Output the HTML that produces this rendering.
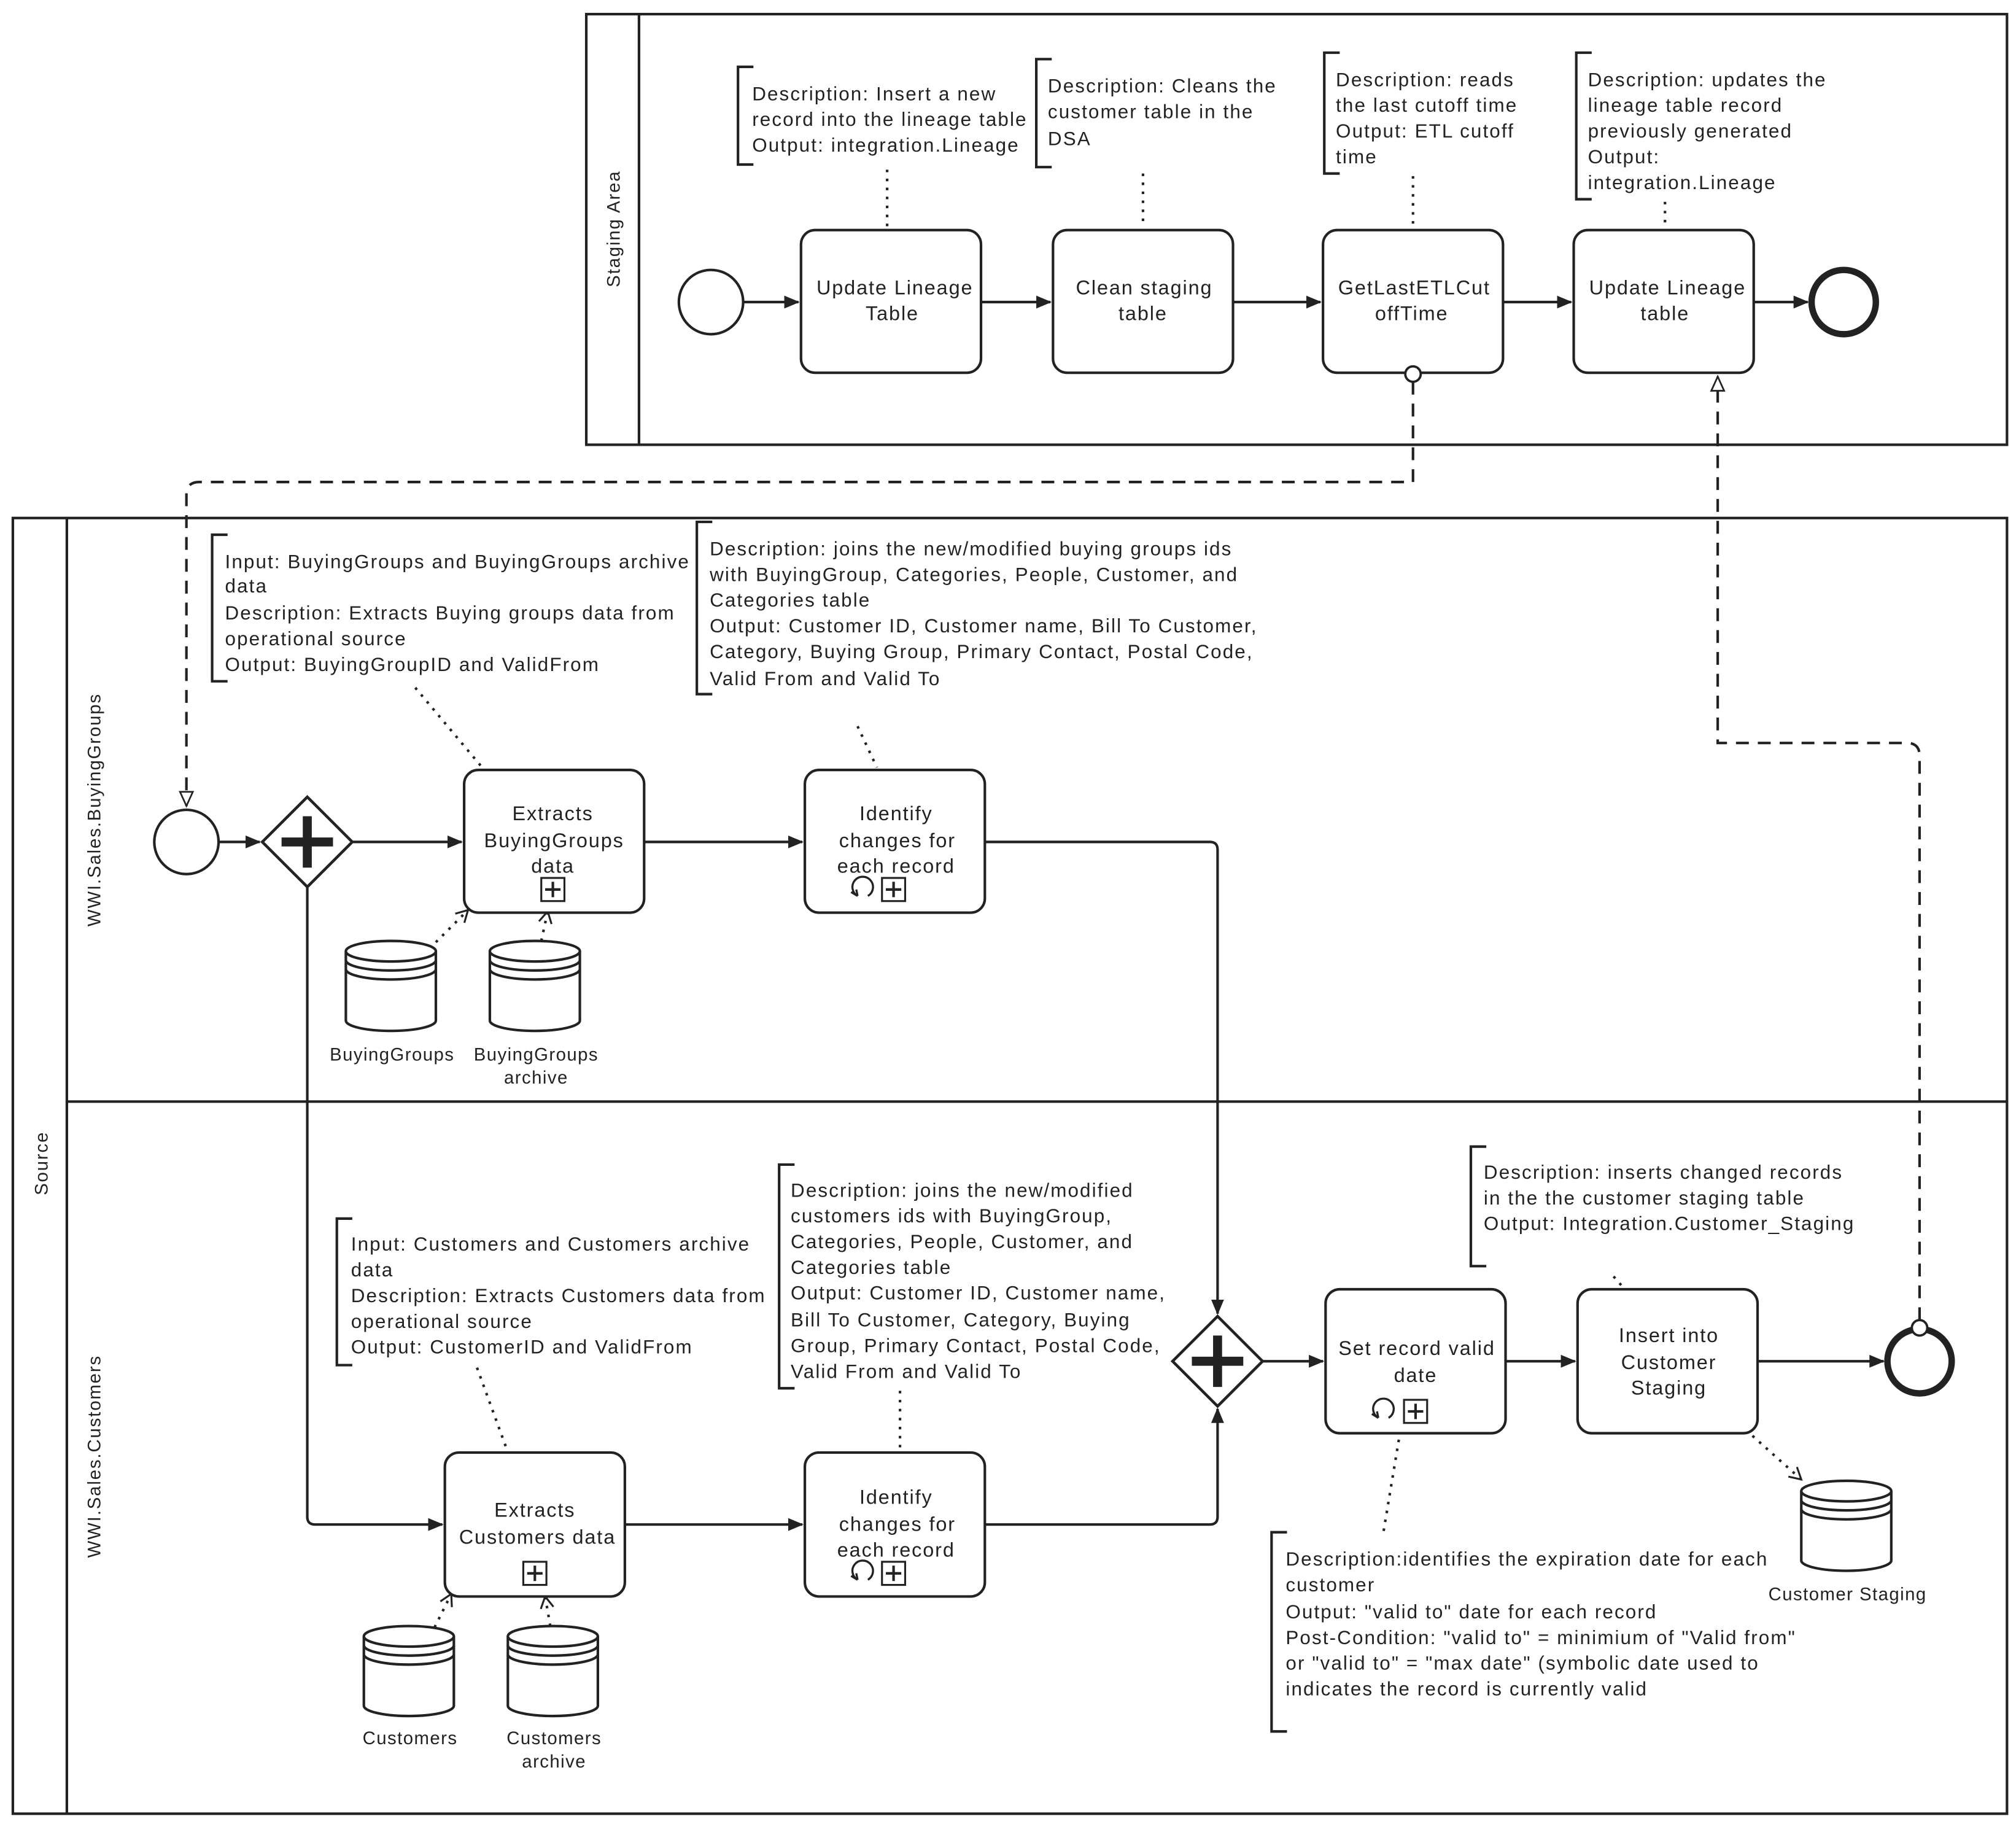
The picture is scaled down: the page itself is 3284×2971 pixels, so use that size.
<!DOCTYPE html>
<html><head><meta charset="utf-8"><style>
html,body{margin:0;padding:0;background:#fff;}
svg{display:block;}
text{font-family:"Liberation Sans",Arial,sans-serif;fill:#222;}
.a{font-size:15px;letter-spacing:1px;}
.t{font-size:15.5px;text-anchor:middle;letter-spacing:0.9px;}
.l{font-size:14px;text-anchor:middle;letter-spacing:0.7px;}
</style></head><body>
<svg width="3284" height="2971" viewBox="0 0 1568 1419" preserveAspectRatio="none" xmlns="http://www.w3.org/2000/svg">
<defs>
<marker id="ar" markerWidth="12" markerHeight="12" refX="11" refY="6" orient="auto" markerUnits="userSpaceOnUse"><path d="M0,1 L12,6 L0,11 z" fill="#222"/></marker>
<marker id="oa" markerWidth="14" markerHeight="14" refX="12" refY="7" orient="auto" markerUnits="userSpaceOnUse"><path d="M1,2 L12,7 L1,12 z" fill="#fff" stroke="#222" stroke-width="1.3"/></marker>
<marker id="da" markerWidth="12" markerHeight="12" refX="10" refY="6" orient="auto" markerUnits="userSpaceOnUse"><path d="M1,1 L10,6 L1,11" fill="none" stroke="#222" stroke-width="1.5"/></marker>
<g id="cyl">
<path d="M0,8 L0,62 A35,8 0 0 0 70,62 L70,8" fill="#fff" stroke="#222" stroke-width="2"/>
<ellipse cx="35" cy="8" rx="35" ry="8" fill="#fff" stroke="#222" stroke-width="2"/>
<path d="M0,15 A35,8 0 0 0 70,15 M0,22 A35,8 0 0 0 70,22" fill="none" stroke="#222" stroke-width="2"/>
</g>
<g id="sub"><rect x="-9" y="-9" width="18" height="18" fill="#fff" stroke="#222" stroke-width="1.5"/><path d="M-6,0 H6 M0,-6 V6" stroke="#222" stroke-width="2"/></g>
<g id="loop"><path d="M4,7 A8,8 0 1 0 -4,7" fill="none" stroke="#222" stroke-width="1.6"/><path d="M-4,7 L-9,4 M-4,7 L-5,2" stroke="#222" stroke-width="1.6"/></g>
<g id="gw"><path d="M0,-35 L35,0 L0,35 L-35,0 z" fill="#fff" stroke="#222" stroke-width="2.2"/><path d="M-20,0 H20 M0,-20 V20" stroke="#222" stroke-width="7"/></g>
</defs>
<g fill="none" stroke="#222" stroke-width="2">
<rect x="456" y="11" width="1105" height="335"/>
<line x1="497" y1="11" x2="497" y2="346"/>
<rect x="10" y="403" width="1551" height="1008"/>
<line x1="52" y1="403" x2="52" y2="1411"/>
<line x1="52" y1="857" x2="1561" y2="857"/>
<circle cx="553" cy="235" r="25" fill="#fff"/>
<rect x="623" y="179" width="140" height="111" rx="11" fill="#fff"/>
<rect x="819" y="179" width="140" height="111" rx="11" fill="#fff"/>
<rect x="1029" y="179" width="140" height="111" rx="11" fill="#fff"/>
<rect x="1224" y="179" width="140" height="111" rx="11" fill="#fff"/>
<circle cx="1434" cy="235" r="25" stroke-width="5" fill="#fff"/>
<line x1="578" y1="235" x2="621" y2="235" marker-end="url(#ar)"/>
<line x1="763" y1="235" x2="817" y2="235" marker-end="url(#ar)"/>
<line x1="959" y1="235" x2="1027" y2="235" marker-end="url(#ar)"/>
<line x1="1169" y1="235" x2="1222" y2="235" marker-end="url(#ar)"/>
<line x1="1364" y1="235" x2="1406" y2="235" marker-end="url(#ar)"/>
<path d="M586,52 H574 V128 H586"/>
<path d="M818,46 H806 V130 H818"/>
<path d="M1042,41 H1030 V135 H1042"/>
<path d="M1238,41 H1226 V155 H1238"/>
<path d="M177,416 H165 V530 H177"/>
<path d="M554,406 H542 V540 H554"/>
<path d="M274,948 H262 V1062 H274"/>
<path d="M618,906 H606 V1080 H618"/>
<path d="M1156,892 H1144 V985 H1156"/>
<path d="M1001,1192 H989 V1347 H1001"/>
</g>
<g fill="none" stroke="#222" stroke-width="2" stroke-dasharray="2,5">
<line x1="690" y1="132" x2="690" y2="176"/>
<line x1="889" y1="135" x2="889" y2="176"/>
<line x1="1099" y1="137" x2="1099" y2="176"/>
<line x1="1295" y1="157" x2="1295" y2="176"/>
<line x1="323" y1="535" x2="375" y2="597"/>
<line x1="667" y1="565" x2="682" y2="597"/>
<line x1="371" y1="1064" x2="394" y2="1127"/>
<line x1="700" y1="1082" x2="700" y2="1127"/>
<line x1="1255" y1="993" x2="1262" y2="1001"/>
<line x1="1088" y1="1120" x2="1076" y2="1192"/>
<line x1="339" y1="733" x2="364" y2="708" marker-end="url(#da)"/>
<line x1="421" y1="732" x2="426" y2="709" marker-end="url(#da)"/>
<line x1="338" y1="1266" x2="351" y2="1240" marker-end="url(#da)"/>
<line x1="428" y1="1265" x2="424" y2="1242" marker-end="url(#da)"/>
<line x1="1363" y1="1117" x2="1401" y2="1151" marker-end="url(#da)"/>
</g>
<g fill="none" stroke="#222" stroke-width="2" stroke-dasharray="10,7">
<path d="M1099,297 V375 H155 Q145,375 145,385 V627" marker-end="url(#oa)"/>
<path d="M1493,1027 V588 Q1493,578 1483,578 H1336 V293" marker-end="url(#oa)"/>
</g>
<circle cx="1099" cy="291" r="6" fill="#fff" stroke="#222" stroke-width="1.8"/>
<g fill="none" stroke="#222" stroke-width="2">
<circle cx="145" cy="655" r="25" fill="#fff"/>
<line x1="170" y1="655" x2="202" y2="655" marker-end="url(#ar)"/>
<line x1="274" y1="655" x2="359" y2="655" marker-end="url(#ar)"/>
<rect x="361" y="599" width="140" height="111" rx="11" fill="#fff"/>
<line x1="501" y1="655" x2="624" y2="655" marker-end="url(#ar)"/>
<rect x="626" y="599" width="140" height="111" rx="11" fill="#fff"/>
<path d="M766,655 H941 Q947,655 947,661 V1022" marker-end="url(#ar)"/>
<path d="M239,690 V1180 Q239,1186 245,1186 H344" marker-end="url(#ar)"/>
<rect x="346" y="1130" width="140" height="112" rx="11" fill="#fff"/>
<line x1="486" y1="1186" x2="624" y2="1186" marker-end="url(#ar)"/>
<rect x="626" y="1130" width="140" height="112" rx="11" fill="#fff"/>
<path d="M766,1186 H941 Q947,1186 947,1180 V1096" marker-end="url(#ar)"/>
<line x1="982" y1="1059" x2="1029" y2="1059" marker-end="url(#ar)"/>
<rect x="1031" y="1003" width="140" height="112" rx="11" fill="#fff"/>
<line x1="1171" y1="1059" x2="1225" y2="1059" marker-end="url(#ar)"/>
<rect x="1227" y="1003" width="140" height="112" rx="11" fill="#fff"/>
<line x1="1367" y1="1059" x2="1465" y2="1059" marker-end="url(#ar)"/>
<circle cx="1493" cy="1059" r="25" stroke-width="5" fill="#fff"/>
</g>
<circle cx="1493" cy="1033" r="6" fill="#fff" stroke="#222" stroke-width="1.8"/>
<use href="#gw" x="239" y="655"/>
<use href="#gw" x="947" y="1059"/>
<use href="#sub" x="430" y="692"/>
<use href="#sub" x="695" y="692"/><use href="#loop" x="671" y="690"/>
<use href="#sub" x="416" y="1224"/>
<use href="#sub" x="695" y="1224"/><use href="#loop" x="671" y="1222"/>
<use href="#sub" x="1101" y="1098"/><use href="#loop" x="1076" y="1096"/>
<use href="#cyl" x="269" y="732"/>
<use href="#cyl" x="381" y="732"/>
<use href="#cyl" x="283" y="1265"/>
<use href="#cyl" x="395" y="1265"/>
<use href="#cyl" x="1401" y="1152"/>
<text class="t" transform="translate(482,178) rotate(-90)" style="font-size:14px">Staging Area</text>
<text class="t" transform="translate(37,905) rotate(-90)" style="font-size:14px">Source</text>
<text class="t" transform="translate(78,630) rotate(-90)" style="font-size:14px">WWI.Sales.BuyingGroups</text>
<text class="t" transform="translate(78,1133) rotate(-90)" style="font-size:14px">WWI.Sales.Customers</text>
<text class="t" x="696" y="229">Update Lineage</text><text class="t" x="694" y="249">Table</text>
<text class="t" x="890" y="229">Clean staging</text><text class="t" x="889" y="249">table</text>
<text class="t" x="1100" y="229">GetLastETLCut</text><text class="t" x="1098" y="249">offTime</text>
<text class="t" x="1297" y="229">Update Lineage</text><text class="t" x="1295" y="249">table</text>
<text class="t" x="430" y="638">Extracts</text><text class="t" x="431" y="659">BuyingGroups</text><text class="t" x="430" y="679">data</text>
<text class="t" x="697" y="638">Identify</text><text class="t" x="698" y="659">changes for</text><text class="t" x="697" y="679">each record</text>
<text class="t" x="416" y="1180">Extracts</text><text class="t" x="418" y="1201">Customers data</text>
<text class="t" x="697" y="1170">Identify</text><text class="t" x="698" y="1191">changes for</text><text class="t" x="697" y="1211">each record</text>
<text class="t" x="1102" y="1054">Set record valid</text><text class="t" x="1101" y="1075">date</text>
<text class="t" x="1298" y="1044">Insert into</text><text class="t" x="1298" y="1065">Customer</text><text class="t" x="1298" y="1085">Staging</text>
<text class="l" x="305" y="825">BuyingGroups</text>
<text class="l" x="417" y="825">BuyingGroups</text><text class="l" x="417" y="843">archive</text>
<text class="l" x="319" y="1357">Customers</text>
<text class="l" x="431" y="1357">Customers</text><text class="l" x="431" y="1375">archive</text>
<text class="l" x="1437" y="1245">Customer Staging</text>
<g class="a">
<text x="585" y="78">Description: Insert a new</text><text x="585" y="98">record into the lineage table</text><text x="585" y="118">Output: integration.Lineage</text>
<text x="815" y="72">Description: Cleans the</text><text x="815" y="92">customer table in the</text><text x="815" y="113">DSA</text>
<text x="1039" y="67">Description: reads</text><text x="1039" y="87">the last cutoff time</text><text x="1039" y="107">Output: ETL cutoff</text><text x="1039" y="127">time</text>
<text x="1235" y="67">Description: updates the</text><text x="1235" y="87">lineage table record</text><text x="1235" y="107">previously generated</text><text x="1235" y="127">Output:</text><text x="1235" y="147">integration.Lineage</text>
<text x="175" y="442">Input: BuyingGroups and BuyingGroups archive</text><text x="175" y="461">data</text><text x="175" y="482">Description: Extracts Buying groups data from</text><text x="175" y="502">operational source</text><text x="175" y="522">Output: BuyingGroupID and ValidFrom</text>
<text x="552" y="432">Description: joins the new/modified buying groups ids</text><text x="552" y="452">with BuyingGroup, Categories, People, Customer, and</text><text x="552" y="472">Categories table</text><text x="552" y="492">Output: Customer ID, Customer name, Bill To Customer,</text><text x="552" y="512">Category, Buying Group, Primary Contact, Postal Code,</text><text x="552" y="533">Valid From and Valid To</text>
<text x="273" y="973">Input: Customers and Customers archive</text><text x="273" y="993">data</text><text x="273" y="1013">Description: Extracts Customers data from</text><text x="273" y="1033">operational source</text><text x="273" y="1053">Output: CustomerID and ValidFrom</text>
<text x="615" y="931">Description: joins the new/modified</text><text x="615" y="951">customers ids with BuyingGroup,</text><text x="615" y="971">Categories, People, Customer, and</text><text x="615" y="991">Categories table</text><text x="615" y="1011">Output: Customer ID, Customer name,</text><text x="615" y="1032">Bill To Customer, Category, Buying</text><text x="615" y="1052">Group, Primary Contact, Postal Code,</text><text x="615" y="1072">Valid From and Valid To</text>
<text x="1154" y="917">Description: inserts changed records</text><text x="1154" y="937">in the the customer staging table</text><text x="1154" y="957">Output: Integration.Customer_Staging</text>
<text x="1000" y="1218">Description:identifies the expiration date for each</text><text x="1000" y="1238">customer</text><text x="1000" y="1259">Output: "valid to" date for each record</text><text x="1000" y="1279">Post-Condition: "valid to" = minimium of "Valid from"</text><text x="1000" y="1299">or "valid to" = "max date" (symbolic date used to</text><text x="1000" y="1319">indicates the record is currently valid</text>
</g>
</svg>
</body></html>
